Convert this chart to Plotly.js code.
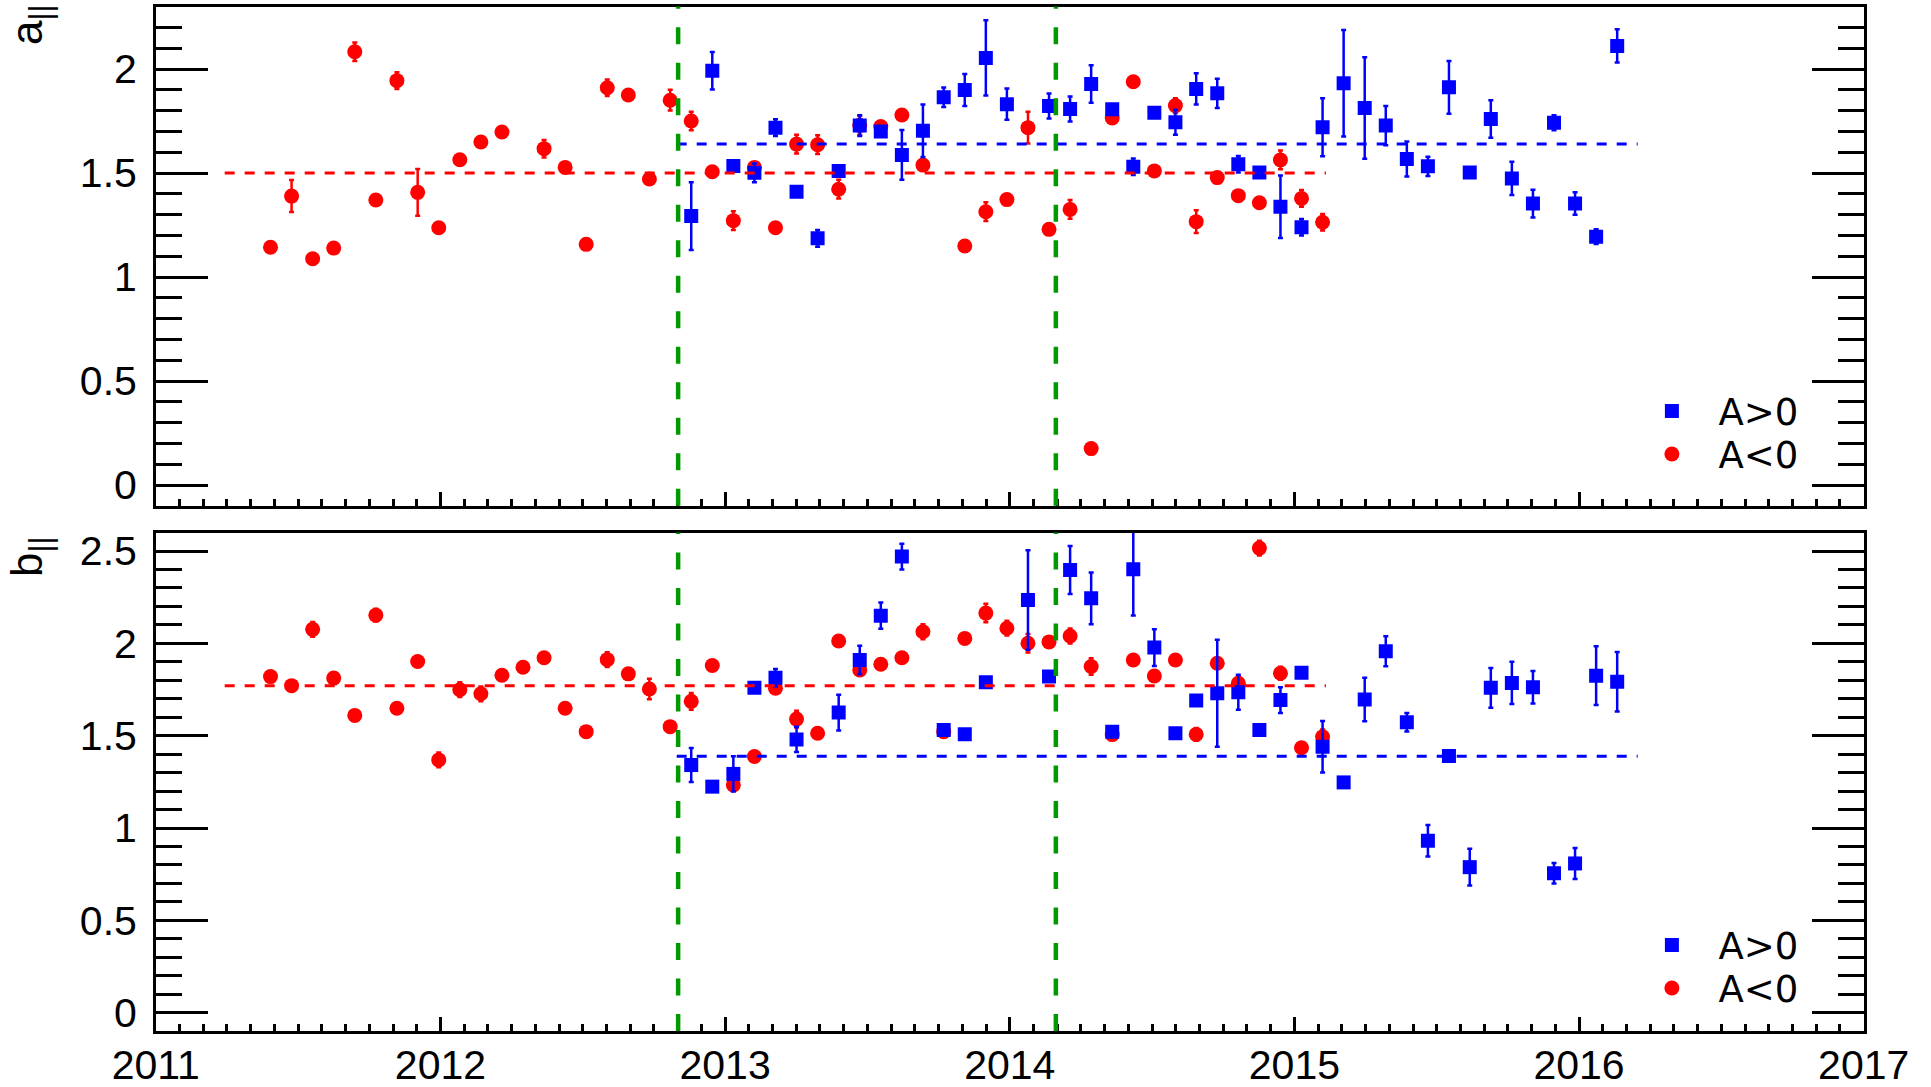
<!DOCTYPE html>
<html>
<head>
<meta charset="utf-8">
<script src="https://cdn.plot.ly/plotly-3.0.1.min.js"></script>
<style>
  html, body { margin: 0; padding: 0; background: #ffffff; }
  #chart { width: 1931px; height: 1087px; }
</style>
</head>
<body>
<div id="chart"></div>
<script>
// Sample dates (decimal year), one per 27-day rotation
const datesNeg = [
  2011.403, 2011.477, 2011.551, 2011.625, 2011.699, 2011.773, 2011.847, 2011.920, 2011.994, 2012.068,
  2012.142, 2012.216, 2012.290, 2012.364, 2012.438, 2012.512, 2012.586, 2012.660, 2012.734, 2012.807,
  2012.881, 2012.955, 2013.029, 2013.103, 2013.177, 2013.251, 2013.325, 2013.399, 2013.473, 2013.547,
  2013.621, 2013.695, 2013.768, 2013.842, 2013.916, 2013.990, 2014.064, 2014.138, 2014.212, 2014.286,
  2014.360, 2014.434, 2014.508, 2014.582, 2014.655, 2014.729, 2014.803, 2014.877, 2014.951, 2015.025,
  2015.099
];
const datesPos = [
  2012.881, 2012.955, 2013.029, 2013.103, 2013.177, 2013.251, 2013.325, 2013.399, 2013.473, 2013.547,
  2013.621, 2013.695, 2013.768, 2013.842, 2013.916, 2013.990, 2014.064, 2014.138, 2014.212, 2014.286,
  2014.360, 2014.434, 2014.508, 2014.582, 2014.655, 2014.729, 2014.803, 2014.877, 2014.951, 2015.025,
  2015.099, 2015.173, 2015.247, 2015.321, 2015.395, 2015.469, 2015.543, 2015.616, 2015.690, 2015.764,
  2015.838, 2015.912, 2015.986, 2016.060, 2016.134
];

// a_|| for A<0 and A>0
const aNeg = [
  1.143, 1.389, 1.088, 1.139, 2.083, 1.370, 1.944, 1.407, 1.237, 1.564,
  1.649, 1.697, null, 1.617, 1.527, 1.157, 1.910, 1.875, 1.471, 1.850,
  1.750, 1.506, 1.271, 1.527, 1.237, 1.639, 1.636, 1.422, 1.729, 1.723,
  1.779, 1.538, null, 1.149, 1.314, 1.372, 1.718, 1.229, 1.325, 0.175,
  1.765, 1.939, 1.510, 1.824, 1.266, 1.478, 1.391, 1.357, 1.563, 1.378,
  1.263
];
const aNegErr = [
  0.02, 0.077, 0.02, 0.02, 0.045, 0.02, 0.04, 0.112, 0.02, 0.02,
  0.02, 0.02, null, 0.042, 0.02, 0.02, 0.04, 0.02, 0.02, 0.05,
  0.045, 0.02, 0.045, 0.02, 0.02, 0.045, 0.045, 0.045, 0.045, 0.02,
  0.02, 0.02, null, 0.02, 0.045, 0.02, 0.076, 0.02, 0.045, 0.02,
  0.02, 0.02, 0.02, 0.035, 0.055, 0.02, 0.02, 0.02, 0.045, 0.04,
  0.04
];
const aPos = [
  1.293, 1.992, 1.534, 1.501, 1.718, 1.410, 1.186, 1.510, 1.728, 1.699,
  1.587, 1.703, 1.864, 1.899, 2.053, 1.831, null, 1.822, 1.808, 1.928,
  1.806, 1.530, 1.790, 1.744, 1.904, 1.883, 1.542, 1.503, 1.338, 1.239,
  1.720, 1.931, 1.813, 1.728, 1.567, 1.532, 1.912, 1.503, 1.760, 1.474,
  1.353, 1.742, 1.353, 1.194, 2.111
];
const aPosErr = [
  0.163, 0.09, 0.02, 0.045, 0.04, 0.02, 0.04, 0.02, 0.05, 0.02,
  0.12, 0.126, 0.047, 0.077, 0.181, 0.075, null, 0.06, 0.06, 0.09,
  0.02, 0.04, 0.02, 0.06, 0.075, 0.07, 0.04, 0.02, 0.15, 0.04,
  0.139, 0.256, 0.244, 0.094, 0.084, 0.046, 0.127, 0.02, 0.09, 0.08,
  0.067, 0.036, 0.054, 0.035, 0.08
];

// b_|| for A<0 and A>0
const bNeg = [
  1.820, 1.771, 2.076, 1.812, 1.610, 2.153, 1.649, 1.902, 1.369, 1.749,
  1.727, 1.827, 1.871, 1.922, 1.649, 1.522, 1.912, 1.835, 1.753, 1.549,
  1.686, 1.880, 1.233, 1.387, 1.757, 1.590, 1.513, 2.013, 1.856, 1.887,
  1.922, 2.063, 1.522, 2.027, 2.164, 2.082, 2.001, 2.008, 2.040, 1.875,
  1.506, 1.910, 1.823, 1.910, 1.507, 1.892, 1.784, 2.516, 1.838, 1.435,
  1.494
];
const bNegErr = [
  0.02, 0.02, 0.04, 0.02, 0.02, 0.035, 0.02, 0.02, 0.04, 0.04,
  0.04, 0.02, 0.02, 0.02, 0.02, 0.02, 0.04, 0.02, 0.055, 0.02,
  0.045, 0.02, 0.02, 0.02, 0.02, 0.045, 0.02, 0.02, 0.02, 0.02,
  0.02, 0.04, 0.02, 0.02, 0.05, 0.04, 0.05, 0.02, 0.04, 0.045,
  0.02, 0.02, 0.03, 0.02, 0.035, 0.02, 0.035, 0.04, 0.035, 0.02,
  0.04
];
const bPos = [
  1.341, 1.224, 1.293, 1.760, 1.814, 1.480, null, 1.625, 1.910, 2.150,
  2.470, null, 1.531, 1.508, 1.790, null, 2.235, 1.820, 2.398, 2.244,
  1.521, 2.401, 1.977, 1.513, 1.690, 1.730, 1.735, 1.531, 1.693, 1.841,
  1.440, 1.247, 1.696, 1.957, 1.573, 0.931, 1.390, 0.788, 1.759, 1.786,
  1.763, 0.755, 0.808, 1.825, 1.792
];
const bPosErr = [
  0.092, 0.02, 0.095, 0.02, 0.047, 0.068, null, 0.097, 0.077, 0.071,
  0.07, null, 0.03, 0.02, 0.02, null, 0.27, 0.02, 0.13, 0.14,
  0.02, 0.25, 0.10, 0.02, 0.02, 0.29, 0.095, 0.02, 0.07, 0.02,
  0.14, 0.02, 0.118, 0.081, 0.05, 0.085, 0.02, 0.10, 0.108, 0.115,
  0.088, 0.056, 0.084, 0.159, 0.161
];

// Mean levels and the time spans they are drawn over
const aMeanLevels = [1.50, 1.64];     // [A<0, A>0]
const bMeanLevels = [1.771, 1.389];   // [A<0, A>0]
const spanNeg = [2011.242, 2015.111];
const spanPos = [2012.830, 2016.206];
// Polarity reversal markers
const reversalDates = [2012.835, 2014.162];

const W = 1931, H = 1087;
const FONT = 'Liberation Sans, Arial, Helvetica, sans-serif';
const LEGEND_FONT = 'DejaVu Sans, Verdana, sans-serif';
const RED = 'rgb(255,0,0)';
const BLUE = 'rgb(0,0,255)';
const GREEN = 'rgb(0,153,0)';

const xDomain = [155.8 / W, 1863.7 / W];
const yTopDomain = [1 - 505.8 / H, 1 - 6.6 / H];
const yBotDomain = [1 - 1031.1 / H, 1 - 532.6 / H];

function series(x, y, err, color, symbol, size, xa, ya, name, legend) {
  return {
    type: 'scatter', mode: 'markers', x: x, y: y, name: name,
    xaxis: xa, yaxis: ya, legend: legend,
    marker: { color: color, symbol: symbol, size: size, line: { width: 0 } },
    error_y: { type: 'data', array: err, visible: true, color: color, thickness: 2.5, width: 2.5 },
    cliponaxis: true, hoverinfo: 'x+y'
  };
}

const traces = [
  series(datesNeg, aNeg, aNegErr, RED, 'circle', 15, 'x', 'y', 'A<0', 'legend2'),
  series(datesPos, aPos, aPosErr, BLUE, 'square', 14, 'x', 'y', 'A>0', 'legend'),
  series(datesNeg, bNeg, bNegErr, RED, 'circle', 15, 'x2', 'y2', 'A<0', 'legend4'),
  series(datesPos, bPos, bPosErr, BLUE, 'square', 14, 'x2', 'y2', 'A>0', 'legend3')
];

function xAxis(anchor, labels) {
  return {
    domain: xDomain, anchor: anchor, range: [2011, 2017],
    tick0: 2011, dtick: 1, ticks: 'inside', ticklen: 14, tickwidth: 2.5, tickcolor: '#000',
    minor: { ticks: 'inside', dtick: 1 / 12, tick0: 2011, ticklen: 7, tickwidth: 2.5, tickcolor: '#000', showgrid: false },
    showticklabels: labels, ticklabelstandoff: -4,
    tickfont: { family: FONT, size: 41, color: '#000' },
    showline: true, linecolor: '#000', linewidth: 2.5, mirror: true,
    showgrid: false, zeroline: false, fixedrange: true
  };
}
function yAxis(anchor, domain, range) {
  return {
    domain: domain, anchor: anchor, range: range,
    tick0: 0, dtick: 0.5, ticks: 'inside', ticklen: 52, tickwidth: 2.5, tickcolor: '#000',
    minor: { ticks: 'inside', dtick: 0.1, tick0: 0, ticklen: 26, tickwidth: 2.5, tickcolor: '#000', showgrid: false },
    ticklabelstandoff: 8,
    tickfont: { family: FONT, size: 41, color: '#000' },
    showline: true, linecolor: '#000', linewidth: 2.5, mirror: 'ticks',
    showgrid: false, zeroline: false, fixedrange: true
  };
}

function hLine(xref, yref, span, level, color) {
  return { type: 'line', xref: xref, yref: yref, x0: span[0], x1: span[1], y0: level, y1: level,
           line: { color: color, width: 3, dash: '10px,10px' }, layer: 'above' };
}
function vLine(xref, yref, xv) {
  return { type: 'line', xref: xref, yref: yref + ' domain', x0: xv, x1: xv, y0: 0, y1: 1,
           line: { color: GREEN, width: 4.5, dash: '17px,18.5px' }, layer: 'above' };
}

const shapes = [
  hLine('x', 'y', spanNeg, aMeanLevels[0], RED),
  hLine('x', 'y', spanPos, aMeanLevels[1], BLUE),
  hLine('x2', 'y2', spanNeg, bMeanLevels[0], RED),
  hLine('x2', 'y2', spanPos, bMeanLevels[1], BLUE)
];
reversalDates.forEach(function (d) {
  shapes.push(vLine('x', 'y', d));
  shapes.push(vLine('x2', 'y2', d));
});

function legendAt(px, py) {
  return {
    x: px / W, y: 1 - py / H, xanchor: 'left', yanchor: 'top',
    xref: 'paper', yref: 'paper',
    bgcolor: 'rgba(0,0,0,0)', borderwidth: 0, itemwidth: 83,
    font: { family: LEGEND_FONT, size: 37, color: '#000' }
  };
}

const layout = {
  width: W, height: H,
  margin: { l: 0, r: 0, t: 0, b: 0, pad: 0 },
  paper_bgcolor: '#ffffff', plot_bgcolor: '#ffffff',
  font: { family: FONT, color: '#000' },
  showlegend: true,
  xaxis: xAxis('y', false),
  yaxis: yAxis('x', yTopDomain, [-0.1, 2.3]),
  xaxis2: xAxis('y2', true),
  yaxis2: yAxis('x2', yBotDomain, [-0.1, 2.6]),
  legend: legendAt(1625.4, 380.5),
  legend2: legendAt(1625.4, 423.5),
  legend3: legendAt(1625.4, 914.5),
  legend4: legendAt(1625.4, 957.5),
  shapes: shapes,
  annotations: [
    { text: 'a<sub>||</sub>', xref: 'paper', yref: 'paper', x: 30 / W, y: 1 - 25 / H,
      xanchor: 'center', yanchor: 'middle', textangle: -90, showarrow: false,
      font: { family: FONT, size: 44, color: '#000' } },
    { text: 'b<sub>||</sub>', xref: 'paper', yref: 'paper', x: 30 / W, y: 1 - 557 / H,
      xanchor: 'center', yanchor: 'middle', textangle: -90, showarrow: false,
      font: { family: FONT, size: 44, color: '#000' } }
  ]
};

Plotly.newPlot('chart', traces, layout, { displayModeBar: false, responsive: false });
</script>
</body>
</html>
